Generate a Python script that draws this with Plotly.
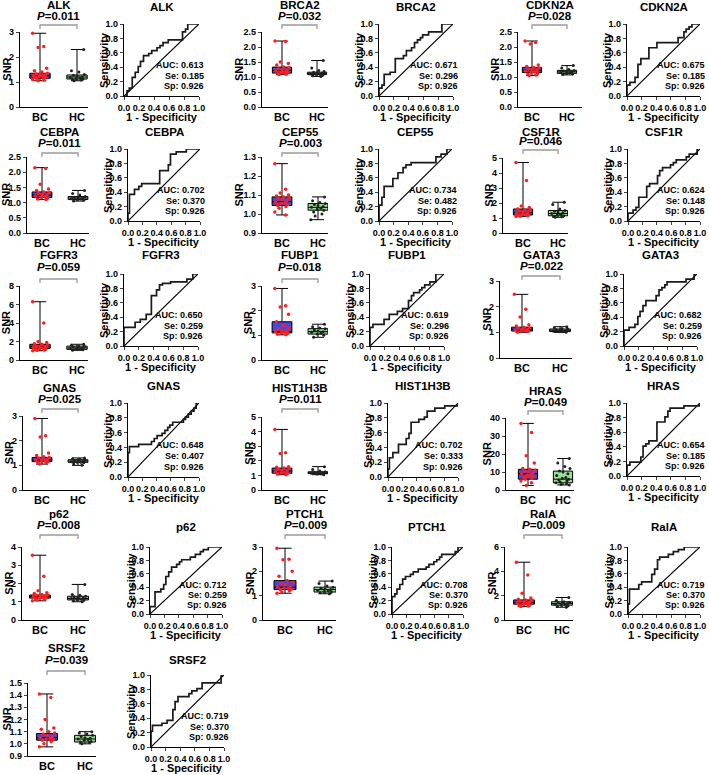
import plotly.graph_objects as go

W, H = 709, 775

# ---------------- data ----------------
GENES = ["ALK", "BRCA2", "CDKN2A", "CEBPA", "CEP55", "CSF1R", "FGFR3", "FUBP1", "GATA3",
         "GNAS", "HIST1H3B", "HRAS", "p62", "PTCH1", "RalA", "SRSF2"]
P_VALUES = ["0.011", "0.032", "0.028", "0.011", "0.003", "0.046", "0.059", "0.018", "0.022",
            "0.025", "0.011", "0.049", "0.008", "0.009", "0.009", "0.039"]
AUC = ["0.613", "0.671", "0.675", "0.702", "0.734", "0.624", "0.650", "0.619", "0.682",
       "0.648", "0.702", "0.654", "0.712", "0.708", "0.719", "0.719"]
SE = ["0.185", "0.296", "0.185", "0.370", "0.482", "0.148", "0.259", "0.296", "0.259",
      "0.407", "0.333", "0.185", "0.259", "0.370", "0.370", "0.370"]
SP = ["0.926", "0.926", "0.926", "0.926", "0.926", "0.926", "0.926", "0.926", "0.926",
      "0.926", "0.926", "0.926", "0.926", "0.926", "0.926", "0.926"]
GROUPS = ["BC", "HC"]

# y-axis ticks of the SNR panels: (min, max, step)
Y_TICK_MIN = [0, 0, 0, 0, 0.9, 0, 0, 0, 0, 0, 0, 0, 0, 0, 0, 0.9]
Y_TICK_MAX = [3, 2.5, 2.5, 2.5, 1.3, 5, 8, 3, 3, 3, 5, 40, 4, 3, 6, 1.5]
Y_TICK_STEP = [1, 0.5, 0.5, 0.5, 0.1, 1, 2, 1, 1, 1, 1, 10, 1, 1, 2, 0.1]
ROC_TICKS = [0.0, 0.2, 0.4, 0.6, 0.8, 1.0]

# box statistics [min, q1, median, q3, max]
BC_STATS = [
    [1.05, 1.15, 1.25, 1.35, 2.95], [1.08, 1.13, 1.22, 1.33, 2.2], [1.05, 1.15, 1.23, 1.32, 2.2],
    [1.10, 1.17, 1.25, 1.35, 2.15], [0.995, 1.045, 1.065, 1.09, 1.265], [1.10, 1.20, 1.35, 1.60, 4.7],
    [1.00, 1.25, 1.45, 1.70, 6.3], [1.02, 1.10, 1.15, 1.55, 2.9], [1.00, 1.05, 1.12, 1.20, 2.48],
    [1.05, 1.15, 1.22, 1.32, 2.9], [1.05, 1.15, 1.30, 1.50, 4.15], [2.5, 6.0, 9.0, 11.5, 37.0],
    [1.05, 1.20, 1.28, 1.37, 3.55], [1.10, 1.25, 1.35, 1.62, 2.95], [1.10, 1.30, 1.45, 1.65, 4.75],
    [0.975, 1.03, 1.05, 1.085, 1.41]]
HC_STATS = [
    [1.05, 1.12, 1.20, 1.28, 2.3], [1.02, 1.08, 1.12, 1.16, 1.55], [1.07, 1.12, 1.17, 1.22, 1.38],
    [1.05, 1.10, 1.15, 1.20, 1.4], [0.97, 1.02, 1.035, 1.055, 1.09], [1.05, 1.15, 1.30, 1.50, 2.05],
    [1.05, 1.15, 1.30, 1.50, 1.7], [0.92, 1.05, 1.15, 1.27, 1.45], [1.00, 1.03, 1.08, 1.13, 1.22],
    [1.00, 1.12, 1.17, 1.23, 1.3], [1.05, 1.12, 1.18, 1.25, 1.6], [2.8, 4.0, 6.0, 10.5, 17.5],
    [1.00, 1.10, 1.18, 1.30, 1.95], [1.08, 1.15, 1.25, 1.35, 1.6], [1.05, 1.22, 1.35, 1.50, 1.85],
    [1.00, 1.015, 1.04, 1.07, 1.1]]

# individual points
ALK_BC = [2.95, 2.42, 2.38, 1.55, 1.45, 1.4, 1.35, 1.32, 1.3, 1.28, 1.26, 1.24, 1.22, 1.2, 1.18, 1.15, 1.12, 1.1, 1.08, 1.05]
ALK_HC = [2.3, 1.45, 1.4, 1.3, 1.27, 1.24, 1.2, 1.18, 1.16, 1.14, 1.12, 1.1, 1.08, 1.05]
BRCA2_BC = [2.2, 2.18, 1.5, 1.45, 1.4, 1.33, 1.3, 1.27, 1.25, 1.22, 1.2, 1.17, 1.15, 1.13, 1.11, 1.09, 1.08]
BRCA2_HC = [1.55, 1.3, 1.22, 1.18, 1.16, 1.14, 1.12, 1.1, 1.09, 1.08, 1.06, 1.04, 1.02]
CDKN2A_BC = [2.2, 2.15, 2.1, 1.4, 1.35, 1.32, 1.3, 1.27, 1.25, 1.23, 1.2, 1.18, 1.15, 1.12, 1.1, 1.07, 1.05]
CDKN2A_HC = [1.38, 1.3, 1.25, 1.22, 1.2, 1.18, 1.17, 1.15, 1.14, 1.12, 1.1, 1.08]
CEBPA_BC = [2.15, 2.12, 1.6, 1.45, 1.4, 1.35, 1.32, 1.3, 1.27, 1.25, 1.22, 1.2, 1.17, 1.15, 1.12, 1.1]
CEBPA_HC = [1.4, 1.3, 1.25, 1.2, 1.18, 1.16, 1.15, 1.13, 1.12, 1.1, 1.08, 1.05]
CEP55_BC = [1.265, 1.13, 1.11, 1.1, 1.095, 1.09, 1.085, 1.08, 1.075, 1.07, 1.065, 1.06, 1.055, 1.05, 1.045, 1.04, 1.03, 1.01, 0.995]
CEP55_HC = [1.09, 1.07, 1.06, 1.055, 1.05, 1.045, 1.04, 1.035, 1.03, 1.025, 1.02, 1.01, 1.0, 0.99, 0.97]
CSF1R_BC = [4.7, 3.5, 1.8, 1.7, 1.6, 1.55, 1.5, 1.45, 1.4, 1.35, 1.3, 1.27, 1.25, 1.2, 1.17, 1.15, 1.12, 1.1]
CSF1R_HC = [2.05, 1.9, 1.6, 1.5, 1.45, 1.4, 1.35, 1.3, 1.25, 1.2, 1.15, 1.12, 1.08, 1.05]
FGFR3_BC = [6.3, 4.0, 2.0, 1.9, 1.75, 1.7, 1.6, 1.5, 1.45, 1.4, 1.35, 1.3, 1.25, 1.2, 1.15, 1.1, 1.05, 1.0]
FGFR3_HC = [1.7, 1.6, 1.5, 1.45, 1.4, 1.35, 1.3, 1.25, 1.2, 1.15, 1.1, 1.05]
FUBP1_BC = [2.9, 2.2, 2.15, 1.85, 1.55, 1.4, 1.3, 1.25, 1.2, 1.17, 1.15, 1.13, 1.1, 1.08, 1.05, 1.02]
FUBP1_HC = [1.45, 1.35, 1.3, 1.27, 1.22, 1.18, 1.15, 1.12, 1.08, 1.05, 1.0, 0.92]
GATA3_BC = [2.48, 1.9, 1.6, 1.3, 1.25, 1.2, 1.17, 1.15, 1.12, 1.1, 1.08, 1.06, 1.05, 1.03, 1.0]
GATA3_HC = [1.22, 1.18, 1.15, 1.13, 1.1, 1.08, 1.06, 1.05, 1.03, 1.02, 1.0]
GNAS_BC = [2.9, 2.2, 2.15, 1.5, 1.4, 1.35, 1.32, 1.3, 1.27, 1.25, 1.22, 1.2, 1.18, 1.15, 1.12, 1.1, 1.05]
GNAS_HC = [1.3, 1.27, 1.25, 1.23, 1.2, 1.18, 1.17, 1.15, 1.13, 1.12, 1.1, 1.05, 1.0]
HIST1H3B_BC = [4.15, 2.55, 2.5, 1.6, 1.55, 1.5, 1.45, 1.4, 1.35, 1.3, 1.25, 1.2, 1.17, 1.15, 1.1, 1.05]
HIST1H3B_HC = [1.6, 1.4, 1.3, 1.25, 1.22, 1.2, 1.18, 1.15, 1.12, 1.1, 1.05]
HRAS_BC = [37, 32, 19, 15, 12, 11.5, 11, 10.5, 10, 9.5, 9, 8.5, 8, 7.5, 7, 6.5, 6, 5, 4, 2.5]
HRAS_HC = [17.5, 15, 13, 12, 10.5, 10, 9, 8, 7, 6.5, 6, 5.5, 5, 4.5, 4, 3.5, 3, 2.8]
P62_BC = [3.55, 2.4, 1.6, 1.5, 1.45, 1.4, 1.37, 1.35, 1.32, 1.3, 1.28, 1.25, 1.22, 1.2, 1.17, 1.15, 1.1, 1.05]
P62_HC = [1.95, 1.4, 1.35, 1.3, 1.27, 1.25, 1.2, 1.18, 1.15, 1.12, 1.1, 1.05, 1.0]
PTCH1_BC = [2.95, 2.5, 2.48, 2.0, 1.8, 1.62, 1.55, 1.5, 1.45, 1.4, 1.35, 1.32, 1.3, 1.27, 1.25, 1.2, 1.15, 1.1]
PTCH1_HC = [1.6, 1.5, 1.4, 1.35, 1.3, 1.27, 1.25, 1.22, 1.2, 1.17, 1.15, 1.12, 1.08]
RALA_BC = [4.75, 3.7, 2.2, 1.8, 1.7, 1.65, 1.6, 1.55, 1.5, 1.45, 1.4, 1.35, 1.3, 1.25, 1.2, 1.15, 1.1]
RALA_HC = [1.85, 1.6, 1.5, 1.45, 1.42, 1.38, 1.35, 1.3, 1.27, 1.22, 1.18, 1.1, 1.05]
SRSF2_BC = [1.41, 1.38, 1.2, 1.13, 1.12, 1.1, 1.09, 1.08, 1.07, 1.06, 1.05, 1.045, 1.04, 1.035, 1.03, 1.02, 1.0, 0.975]
SRSF2_HC = [1.1, 1.09, 1.08, 1.07, 1.06, 1.05, 1.045, 1.04, 1.035, 1.03, 1.02, 1.015, 1.01, 1.0]

# ROC step curves (1 - specificity, sensitivity)
ALK_FPR = [0, 0.04, 0.07, 0.11, 0.15, 0.19, 0.22, 0.26, 0.33, 0.37, 0.44, 0.48, 0.52, 0.59, 0.78, 0.82, 0.85, 1.0]
ALK_TPR = [0, 0.07, 0.11, 0.26, 0.33, 0.41, 0.48, 0.56, 0.59, 0.63, 0.67, 0.70, 0.74, 0.78, 0.89, 0.93, 1.0, 1.0]
BRCA2_FPR = [0, 0, 0.04, 0.07, 0.15, 0.22, 0.33, 0.37, 0.44, 0.48, 0.52, 0.56, 0.59, 0.67, 0.85, 1.0]
BRCA2_TPR = [0, 0.11, 0.15, 0.30, 0.33, 0.52, 0.56, 0.63, 0.67, 0.74, 0.78, 0.81, 0.85, 0.89, 1.0, 1.0]
CDKN2A_FPR = [0, 0, 0.04, 0.11, 0.15, 0.19, 0.30, 0.41, 0.70, 0.78, 0.81, 0.85, 0.89, 1.0]
CDKN2A_TPR = [0, 0.15, 0.19, 0.26, 0.44, 0.52, 0.67, 0.74, 0.81, 0.89, 0.93, 0.96, 1.0, 1.0]
CEBPA_FPR = [0, 0, 0.02, 0.09, 0.15, 0.19, 0.44, 0.56, 0.59, 0.67, 0.81, 1.0]
CEBPA_TPR = [0, 0.11, 0.37, 0.44, 0.48, 0.52, 0.70, 0.78, 0.93, 0.96, 1.0, 1.0]
CEP55_FPR = [0, 0, 0.04, 0.07, 0.19, 0.26, 0.33, 0.37, 0.44, 0.78, 0.85, 0.93, 1.0]
CEP55_TPR = [0, 0.22, 0.33, 0.48, 0.59, 0.67, 0.74, 0.78, 0.81, 0.89, 0.93, 1.0, 1.0]
CSF1R_FPR = [0, 0, 0.07, 0.11, 0.15, 0.26, 0.30, 0.41, 0.44, 0.48, 0.59, 0.63, 0.67, 0.81, 0.85, 0.96, 1.0]
CSF1R_TPR = [0, 0.11, 0.15, 0.19, 0.33, 0.48, 0.52, 0.63, 0.70, 0.74, 0.78, 0.81, 0.85, 0.89, 0.93, 1.0, 1.0]
FGFR3_FPR = [0, 0, 0.15, 0.22, 0.30, 0.37, 0.44, 0.48, 0.52, 0.63, 0.85, 0.93, 1.0]
FGFR3_TPR = [0, 0.26, 0.33, 0.37, 0.44, 0.70, 0.78, 0.85, 0.87, 0.89, 0.93, 1.0, 1.0]
FUBP1_FPR = [0, 0, 0.04, 0.19, 0.26, 0.37, 0.44, 0.52, 0.56, 0.59, 0.67, 0.70, 0.74, 0.81, 0.89, 1.0]
FUBP1_TPR = [0, 0.26, 0.30, 0.37, 0.44, 0.48, 0.52, 0.63, 0.70, 0.74, 0.78, 0.81, 0.85, 0.89, 1.0, 1.0]
GATA3_FPR = [0, 0, 0.07, 0.15, 0.19, 0.22, 0.26, 0.30, 0.44, 0.48, 0.52, 0.56, 0.59, 0.85, 0.96, 1.0]
GATA3_TPR = [0, 0.22, 0.26, 0.30, 0.41, 0.48, 0.56, 0.63, 0.70, 0.78, 0.81, 0.85, 0.89, 0.93, 1.0, 1.0]
GNAS_FPR = [0, 0, 0.02, 0.15, 0.33, 0.37, 0.41, 0.48, 0.52, 0.56, 0.59, 0.63, 0.78, 0.81, 0.85, 0.89, 0.93, 0.96, 1.0]
GNAS_TPR = [0, 0.33, 0.41, 0.44, 0.48, 0.52, 0.56, 0.59, 0.63, 0.67, 0.70, 0.74, 0.78, 0.81, 0.85, 0.89, 0.93, 1.0, 1.0]
HIST1H3B_FPR = [0, 0, 0.02, 0.07, 0.15, 0.26, 0.30, 0.33, 0.44, 0.52, 0.56, 0.67, 0.81, 1.0]
HIST1H3B_TPR = [0, 0.11, 0.26, 0.33, 0.44, 0.52, 0.59, 0.74, 0.78, 0.81, 0.89, 0.93, 0.96, 1.0]
HRAS_FPR = [0, 0, 0.04, 0.19, 0.22, 0.26, 0.30, 0.41, 0.52, 0.56, 0.59, 0.78, 1.0]
HRAS_TPR = [0, 0.15, 0.19, 0.26, 0.41, 0.44, 0.48, 0.74, 0.81, 0.89, 0.93, 0.96, 1.0]
P62_FPR = [0, 0, 0.07, 0.15, 0.19, 0.22, 0.26, 0.30, 0.37, 0.41, 0.44, 0.56, 0.63, 0.70, 0.74, 0.81, 1.0]
P62_TPR = [0, 0.11, 0.33, 0.37, 0.44, 0.56, 0.63, 0.70, 0.74, 0.78, 0.81, 0.85, 0.89, 0.93, 0.96, 1.0, 1.0]
PTCH1_FPR = [0, 0, 0.04, 0.07, 0.11, 0.15, 0.19, 0.26, 0.30, 0.37, 0.48, 0.52, 0.59, 0.63, 0.67, 0.70, 0.89, 0.93, 1.0]
PTCH1_TPR = [0, 0.26, 0.30, 0.37, 0.44, 0.52, 0.56, 0.59, 0.63, 0.67, 0.70, 0.74, 0.78, 0.81, 0.85, 0.89, 0.93, 1.0, 1.0]
RALA_FPR = [0, 0, 0.02, 0.15, 0.19, 0.33, 0.37, 0.41, 0.44, 0.56, 0.63, 0.70, 0.78, 1.0]
RALA_TPR = [0, 0.15, 0.37, 0.44, 0.48, 0.59, 0.67, 0.81, 0.85, 0.89, 0.93, 0.96, 1.0, 1.0]
SRSF2_FPR = [0, 0, 0.02, 0.15, 0.22, 0.30, 0.33, 0.37, 0.52, 0.56, 0.63, 0.70, 0.96, 1.0]
SRSF2_TPR = [0, 0.22, 0.30, 0.33, 0.37, 0.52, 0.63, 0.70, 0.74, 0.78, 0.81, 0.89, 1.0, 1.0]

BC_POINTS = [ALK_BC, BRCA2_BC, CDKN2A_BC, CEBPA_BC, CEP55_BC, CSF1R_BC, FGFR3_BC, FUBP1_BC, GATA3_BC,
             GNAS_BC, HIST1H3B_BC, HRAS_BC, P62_BC, PTCH1_BC, RALA_BC, SRSF2_BC]
HC_POINTS = [ALK_HC, BRCA2_HC, CDKN2A_HC, CEBPA_HC, CEP55_HC, CSF1R_HC, FGFR3_HC, FUBP1_HC, GATA3_HC,
             GNAS_HC, HIST1H3B_HC, HRAS_HC, P62_HC, PTCH1_HC, RALA_HC, SRSF2_HC]
ROC_FPR = [ALK_FPR, BRCA2_FPR, CDKN2A_FPR, CEBPA_FPR, CEP55_FPR, CSF1R_FPR, FGFR3_FPR, FUBP1_FPR, GATA3_FPR,
           GNAS_FPR, HIST1H3B_FPR, HRAS_FPR, P62_FPR, PTCH1_FPR, RALA_FPR, SRSF2_FPR]
ROC_TPR = [ALK_TPR, BRCA2_TPR, CDKN2A_TPR, CEBPA_TPR, CEP55_TPR, CSF1R_TPR, FGFR3_TPR, FUBP1_TPR, GATA3_TPR,
           GNAS_TPR, HIST1H3B_TPR, HRAS_TPR, P62_TPR, PTCH1_TPR, RALA_TPR, SRSF2_TPR]

# ---------------- layout (pixel positions) ----------------
ROWS = [  # box top, box bottom, roc top, roc bottom, gene title, P, bracket, roc title
    dict(by0=32, by1=107, ry0=24, ry1=96, tg=5, tp=16, tb=25, tr=7),
    dict(by0=157, by1=233, ry0=149, ry1=221, tg=132, tp=143, tb=153, tr=132),
    dict(by0=286, by1=360, ry0=274, ry1=346, tg=255, tp=267, tb=279, tr=255),
    dict(by0=416, by1=490, ry0=403, ry1=477, tg=388, tp=399, tb=409, tr=386),
    dict(by0=547, by1=620, ry0=547, ry1=614, tg=514, tp=525, tb=535, tr=527),
    dict(by0=683, by1=756, ry0=675, ry1=747, tg=648, tp=660, tb=671, tr=660),
]
# axis x, BC x, HC x, right end x, roc x0, roc x1
COLS = [
    (20, 40, 77, 88, 124, 199), (262, 282, 317, 328, 379, 453), (518, 532, 567, 582, 627, 700),
    (27, 42, 78, 89, 128, 200), (262, 282, 318, 328, 379, 452), (503, 523, 558, 568, 628, 700),
    (20, 40, 77, 88, 124, 198), (262, 282, 318, 328, 370, 444), (500, 522, 560, 572, 624, 697),
    (23, 42, 78, 89, 128, 199), (262, 282, 318, 328, 388, 458), (506, 528, 563, 574, 627, 700),
    (22, 40, 78, 89, 150, 222), (263, 285, 325, 336, 392, 463), (505, 524, 562, 573, 628, 700),
    (28, 47, 85, 96, 151, 224),
]
OVERRIDES = {"CSF1R": dict(by0=158, tp=141, tb=150), "GATA3": dict(by0=281, by1=358, tp=266, tb=276),
             "HIST1H3B": dict(by0=417), "HRAS": dict(by0=418, tg=391, tp=402, tb=411, ry1=476)}

FONT = "Liberation Sans, Arial, sans-serif"
BC_FILL = "#4848de"
HC_FILL = "#95e095"
JITTER = [-0.2, 0.1, -0.05, 0.18, -0.15, 0.05, 0.2, -0.1, 0.0, 0.14, -0.18, 0.08, -0.02, 0.16, -0.12, 0.11, -0.08]


def px(x):
    return x / W


def py(y):
    return 1 - y / H


fig = go.Figure()
annotations = []
shapes = []
layout_axes = {}


def fmt_tick(v, step):
    if step < 1:
        return f"{v:.1f}"
    return f"{int(round(v))}"


def txt(x, y, s, size, xanchor="center", angle=0):
    annotations.append(dict(x=x, y=y, xref="paper", yref="paper", text=s, showarrow=False,
                            xanchor=xanchor, yanchor="middle", textangle=angle,
                            font=dict(family=FONT, size=size, color="black", weight="bold")))


AX_COMMON = dict(showline=True, linecolor="black", linewidth=1.3, showgrid=False, zeroline=False,
                 automargin=False, fixedrange=True)
TICKF = dict(family=FONT, size=9, color="black", weight="bold")

for i, gene in enumerate(GENES):
    row = dict(ROWS[i // 3])
    row.update(OVERRIDES.get(gene, {}))
    ax, bcx, hcx, rx_end, rx0, rx1 = COLS[i]
    s = hcx - bcx
    xr = [-(bcx - ax) / s, 1 + (rx_end - hcx) / s]

    kb, kr = 2 * i + 1, 2 * i + 2
    xb = "x" if kb == 1 else f"x{kb}"
    yb = "y" if kb == 1 else f"y{kb}"
    xrn, yrn = f"x{kr}", f"y{kr}"

    # ---- box panel ----
    for g, stats, fill in ((0, BC_STATS[i], BC_FILL), (1, HC_STATS[i], HC_FILL)):
        fig.add_trace(go.Box(x=[g], lowerfence=[stats[0]], q1=[stats[1]], median=[stats[2]],
                             q3=[stats[3]], upperfence=[stats[4]], fillcolor=fill,
                             line=dict(color="black", width=1), width=0.55, whiskerwidth=0.6,
                             boxpoints=False, showlegend=False, xaxis=xb, yaxis=yb))
    bcp = BC_POINTS[i]
    hcp = HC_POINTS[i]
    fig.add_trace(go.Scatter(x=[JITTER[j % len(JITTER)] for j in range(len(bcp))], y=bcp,
                             mode="markers", marker=dict(color="#ff1e1e", size=3.5),
                             showlegend=False, xaxis=xb, yaxis=yb, cliponaxis=False))
    fig.add_trace(go.Scatter(x=[1 + JITTER[(j + 3) % len(JITTER)] for j in range(len(hcp))], y=hcp,
                             mode="markers", marker=dict(color="#202020", size=3),
                             showlegend=False, xaxis=xb, yaxis=yb, cliponaxis=False))

    tmin, tmax, tstep = Y_TICK_MIN[i], Y_TICK_MAX[i], Y_TICK_STEP[i]
    n = int(round((tmax - tmin) / tstep))
    tv = [tmin + k * tstep for k in range(n + 1)]
    layout_axes["xaxis" if kb == 1 else f"xaxis{kb}"] = dict(
        domain=[px(ax), px(rx_end)], range=xr, anchor=yb, tickvals=[0, 1], ticktext=GROUPS,
        ticks="", tickangle=0, tickfont=dict(family=FONT, size=11, color="black", weight="bold"),
        **AX_COMMON)
    layout_axes["yaxis" if kb == 1 else f"yaxis{kb}"] = dict(
        domain=[py(row["by1"]), py(row["by0"])], range=[tmin, tmax], anchor=xb,
        tickvals=tv, ticktext=[fmt_tick(v, tstep) for v in tv], ticks="outside", ticklen=3,
        tickwidth=1.3, tickfont=TICKF, **AX_COMMON)

    lab = max(len(t) for t in [fmt_tick(v, tstep) for v in tv])
    txt(px(max(6, ax - 9 - 4.8 * lab)), py((row["by0"] + row["by1"]) / 2), "SNR", 11, angle=-90)
    cx = (bcx + hcx) / 2
    txt(px(cx), py(row["tg"]), gene, 11.5)
    txt(px(cx), py(row["tp"]), f"<i>P</i>={P_VALUES[i]}", 11.5)
    tb = row["tb"]
    shapes.append(dict(type="path", xref="paper", yref="paper",
                       path=f"M {px(bcx)} {py(tb + 4)} L {px(bcx)} {py(tb)} L {px(hcx)} {py(tb)} L {px(hcx)} {py(tb + 4)}",
                       line=dict(color="#9a9a9a", width=1.3)))

    # ---- ROC panel ----
    fig.add_trace(go.Scatter(x=[0, 1], y=[0, 1], mode="lines", line=dict(color="black", width=1.2),
                             showlegend=False, xaxis=xrn, yaxis=yrn, cliponaxis=False))
    fig.add_trace(go.Scatter(x=ROC_FPR[i], y=ROC_TPR[i], mode="lines", line_shape="hv",
                             line=dict(color="#1a1a1a", width=1.7), showlegend=False,
                             xaxis=xrn, yaxis=yrn, cliponaxis=False))
    layout_axes[f"xaxis{kr}"] = dict(
        domain=[px(rx0), px(rx1)], range=[0, 1], anchor=yrn, tickvals=ROC_TICKS,
        ticktext=[f"{v:.1f}" for v in ROC_TICKS], ticks="outside", ticklen=3, tickwidth=1.2, tickangle=0,
        tickfont=TICKF, **AX_COMMON)
    layout_axes[f"yaxis{kr}"] = dict(
        domain=[py(row["ry1"]), py(row["ry0"])], range=[0, 1], anchor=xrn, tickvals=ROC_TICKS,
        ticktext=[f"{v:.1f}" for v in ROC_TICKS], ticks="outside", ticklen=3, tickwidth=1.2,
        tickfont=TICKF, **AX_COMMON)
    txt(px(rx0 - 20), py((row["ry0"] + row["ry1"]) / 2), "Sensitivity", 11, angle=-90)
    txt(px((rx0 + rx1) / 2), py(row["ry1"] + 21), "1 - Specificity", 11)
    txt(px((rx0 + rx1) / 2), py(row["tr"]), gene, 11.5)
    rh = row["ry1"] - row["ry0"]
    for frac, label in ((0.43, f"AUC: {AUC[i]}"), (0.28, f"Se: {SE[i]}"), (0.14, f"Sp: {SP[i]}")):
        txt(px(rx1 + 7), py(row["ry1"] - frac * rh), label, 9, xanchor="right")

fig.update_layout(template="none", width=W, height=H, margin=dict(l=0, r=0, t=0, b=0, pad=0),
                  paper_bgcolor="white", plot_bgcolor="white", showlegend=False,
                  annotations=annotations, shapes=shapes, **layout_axes)
fig.write_html("out.html", config={"displayModeBar": False},
               post_script="document.body.style.margin='0';document.body.style.padding='0';")
